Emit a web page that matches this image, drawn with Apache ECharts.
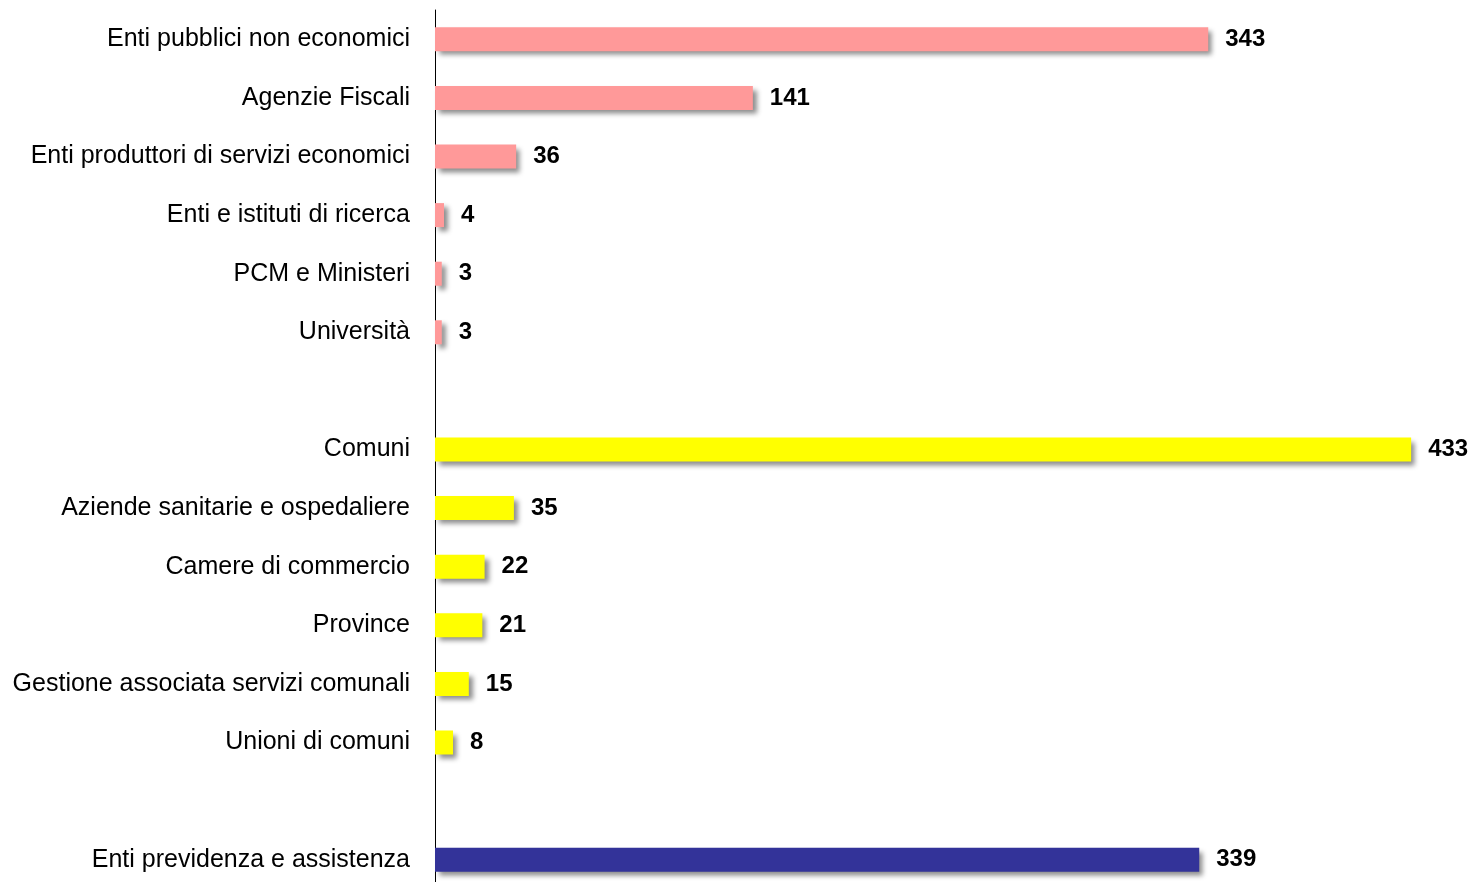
<!DOCTYPE html>
<html>
<head>
<meta charset="utf-8">
<script src="https://cdn.jsdelivr.net/npm/echarts@6/dist/echarts.min.js"></script>
<style>html,body{margin:0;padding:0;background:#fff;}#chart{width:1471px;height:882px;}</style>
</head>
<body>
<div id="chart"></div>
<script>
const categories = [
  'Enti pubblici non economici',
  'Agenzie Fiscali',
  'Enti produttori di servizi economici',
  'Enti e istituti di ricerca',
  'PCM e Ministeri',
  'Università',
  '',
  'Comuni',
  'Aziende sanitarie e ospedaliere',
  'Camere di commercio',
  'Province',
  'Gestione associata servizi comunali',
  'Unioni di comuni',
  '',
  'Enti previdenza e assistenza'
];
const values = [343, 141, 36, 4, 3, 3, null, 433, 35, 22, 21, 15, 8, null, 339];
const groups = ['central','central','central','central','central','central','', 'local','local','local','local','local','local','', 'social'];
const groupColors = { central: '#FF9999', local: '#FFFF00', social: '#333399' };

const data = values.map((v, i) => v === null ? null : ({
  value: v,
  itemStyle: { color: groupColors[groups[i]] }
}));

const chart = echarts.init(document.getElementById('chart'));
chart.setOption({
  animation: false,
  backgroundColor: '#ffffff',
  grid: { left: 435, top: 10, width: 1037, height: 879, containLabel: false, outerBoundsMode: 'none' },
  xAxis: {
    type: 'value', min: 0, max: 460,
    show: false
  },
  yAxis: {
    type: 'category',
    data: categories,
    inverse: true,
    axisLine: { show: true, lineStyle: { color: '#000', width: 1 } },
    axisTick: { show: false },
    axisLabel: {
      margin: 25,
      color: '#000',
      fontFamily: 'Liberation Sans, Arial, sans-serif',
      fontSize: 25
    }
  },
  series: [{
    type: 'bar',
    data: data,
    barWidth: 24,
    itemStyle: {
      shadowColor: 'rgba(0,0,0,0.45)',
      shadowBlur: 5,
      shadowOffsetX: 4,
      shadowOffsetY: 4
    },
    label: {
      show: true,
      position: 'right',
      distance: 17,
      color: '#000',
      fontWeight: 'bold',
      fontFamily: 'Liberation Sans, Arial, sans-serif',
      fontSize: 24
    }
  }]
});
</script>
</body>
</html>
